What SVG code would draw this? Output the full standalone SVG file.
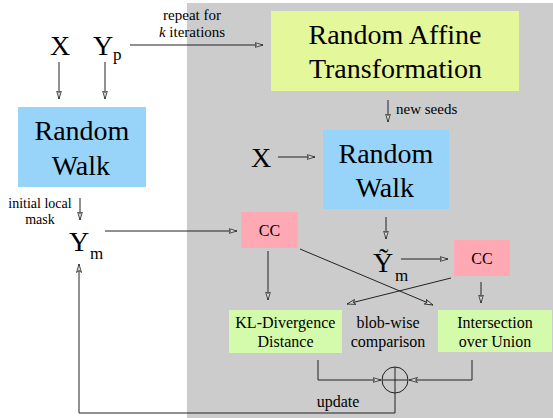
<svg xmlns="http://www.w3.org/2000/svg" width="553" height="418" viewBox="0 0 553 418">
<style>
.ln{stroke:#222;stroke-width:1;fill:none}
</style>
<defs>
<marker id="ah" viewBox="0 0 9 6" refX="8.5" refY="3" markerWidth="9" markerHeight="6" markerUnits="userSpaceOnUse" orient="auto">
<path d="M0,0.5 L8.5,3 L0,5.5 L2,3 z" fill="#ddd" stroke="#222" stroke-width="0.8"/>
</marker>
</defs>
<rect width="553" height="418" fill="#fff"/>
<rect x="187" y="3" width="366" height="415" fill="#cccccc"/>
<g id="X1"><text font-family="Liberation Serif" font-size="28" x="50" y="55">X</text></g>
<g id="Yp"><text font-family="Liberation Serif" font-size="28" x="93" y="55">Y</text><text font-family="Liberation Serif" font-size="17" x="113" y="60">p</text></g>
<g id="rw1"><rect x="18" y="107" width="128" height="80" fill="#98d4fa"/>
<text font-family="Liberation Serif" font-size="28" x="34.5" y="140">Random</text><text font-family="Liberation Serif" font-size="28" x="51.7" y="175">Walk</text></g>
<g id="Ym1"><text font-family="Liberation Serif" font-size="28" x="69" y="251">Y</text><text font-family="Liberation Serif" font-size="17" x="90" y="259">m</text></g>
<g id="affine"><rect x="271" y="11" width="248" height="80" fill="#e4f79a"/>
<text font-family="Liberation Serif" font-size="28" x="308.5" y="44">Random Affine</text><text font-family="Liberation Serif" font-size="28" x="308.9" y="78">Transformation</text></g>
<g id="X2"><text font-family="Liberation Serif" font-size="28" x="251" y="167">X</text></g>
<g id="rw2"><rect x="323" y="130" width="126" height="79" fill="#98d4fa"/>
<text font-family="Liberation Serif" font-size="28" x="338.5" y="163">Random</text><text font-family="Liberation Serif" font-size="28" x="355.7" y="197">Walk</text></g>
<g id="Ym2"><text font-family="Liberation Serif" font-size="28" x="373" y="272">&#7928;</text><text font-family="Liberation Serif" font-size="17" x="395" y="281">m</text></g>
<g id="cc1"><rect x="241" y="212" width="57" height="36" fill="#fea9b3"/><text font-family="Liberation Serif" font-size="16" x="258.8" y="236">CC</text></g>
<g id="cc2"><rect x="454" y="240" width="56" height="36" fill="#fea9b3"/><text font-family="Liberation Serif" font-size="16" x="471.3" y="264">CC</text></g>
<g id="kl"><rect x="229" y="310" width="113" height="43" fill="#d4fbab"/>
<text font-family="Liberation Serif" font-size="16" x="235.3" y="328">KL-Divergence</text><text font-family="Liberation Serif" font-size="16" x="257.5" y="347">Distance</text></g>
<g id="iou"><rect x="438" y="310" width="114" height="42" fill="#d4fbab"/>
<text font-family="Liberation Serif" font-size="16" x="457.2" y="328">Intersection</text><text font-family="Liberation Serif" font-size="16" x="458.8" y="347">over Union</text></g>
<g id="plus"><circle cx="395" cy="380" r="13" class="ln"/>
<path d="M382,380 H408 M395,367 V393" class="ln"/></g>
<g id="labels">
<text font-family="Liberation Serif" font-size="15" x="163.1" y="20">repeat for</text>
<text font-family="Liberation Serif" font-size="15" x="158.9" y="37"><tspan font-style="italic">k</tspan> iterations</text>
<text font-family="Liberation Serif" font-size="15" x="396" y="114">new seeds</text>
<text font-family="Liberation Serif" font-size="14" x="8.3" y="208">initial local</text>
<text font-family="Liberation Serif" font-size="14" x="25.2" y="224">mask</text>
<text font-family="Liberation Serif" font-size="16" x="356.4" y="328">blob-wise</text>
<text font-family="Liberation Serif" font-size="16" x="350.7" y="347">comparison</text>
<text font-family="Liberation Serif" font-size="16" x="316.7" y="407">update</text>
</g>
<g id="connectors">
<path class="ln" d="M59,62 V99" marker-end="url(#ah)"/>
<path class="ln" d="M105,62 V99" marker-end="url(#ah)"/>
<path class="ln" d="M130,45 H263" marker-end="url(#ah)"/>
<path class="ln" d="M388,100 V122" marker-end="url(#ah)"/>
<path class="ln" d="M278,157 H315" marker-end="url(#ah)"/>
<path class="ln" d="M80,198 V220" marker-end="url(#ah)"/>
<path class="ln" d="M105,231 H237" marker-end="url(#ah)"/>
<path class="ln" d="M386,217 V239" marker-end="url(#ah)"/>
<path class="ln" d="M401,259 H448" marker-end="url(#ah)"/>
<path class="ln" d="M268,251 V300" marker-end="url(#ah)"/>
<path class="ln" d="M481,282 V303" marker-end="url(#ah)"/>
<path class="ln" d="M300,249 L433,305" marker-end="url(#ah)"/>
<path class="ln" d="M451,278 L347,304" marker-end="url(#ah)"/>
<path class="ln" d="M318,360 V380 H381" marker-end="url(#ah)"/>
<path class="ln" d="M472,360 V380 H409" marker-end="url(#ah)"/>
<path class="ln" d="M395,393 V413 H79 V264" marker-end="url(#ah)"/>
</g>
</svg>
